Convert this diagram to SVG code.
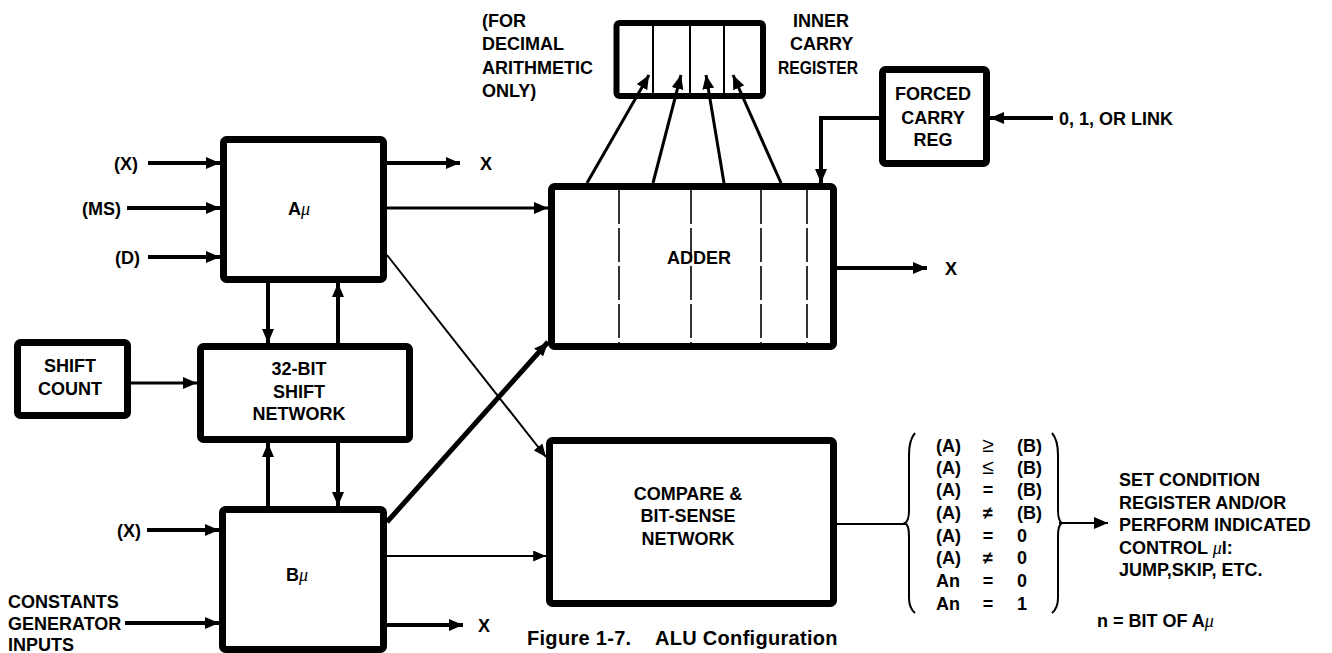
<svg xmlns="http://www.w3.org/2000/svg" width="1332" height="653" viewBox="0 0 1332 653">
<defs>
<marker id="ah" viewBox="0 0 14 12" refX="14" refY="6" markerWidth="14" markerHeight="12" markerUnits="userSpaceOnUse" orient="auto"><path d="M0,0 L14,6 L0,12 z" fill="#000"/></marker>
<marker id="ahs" viewBox="0 0 14 12" refX="14" refY="6" markerWidth="13" markerHeight="11" markerUnits="userSpaceOnUse" orient="auto"><path d="M0,0 L14,6 L0,12 z" fill="#000"/></marker>
</defs>
<style>
.box{fill:#fff;stroke:#000;stroke-width:7;stroke-linejoin:round}
.t{font-family:"Liberation Sans",Arial,sans-serif;font-weight:bold;font-size:18px;fill:#000}
.c{text-anchor:middle}
.e{text-anchor:end}
.mu{font-family:"Liberation Serif",serif;font-style:italic;font-weight:normal}
.op{font-size:21px;font-weight:normal}
.cap{font-size:20px;letter-spacing:0.3px}
.w{fill:none;stroke:#000}
.k{stroke-width:4}
.m{stroke-width:3}
.n{stroke-width:2}
.div{stroke:#000;stroke-width:1.6;stroke-dasharray:34 4}
</style>
<rect width="1332" height="653" fill="#fff"/>
<g id="a-mu">
<rect class="box" x="223.5" y="139.5" width="160" height="140" rx="3"/>
<text class="t c" x="299" y="214.5">A<tspan class="mu">μ</tspan></text>
<text class="t e" x="138" y="169.5">(X)</text>
<text class="t e" x="121" y="214.5">(MS)</text>
<text class="t e" x="140" y="263.5">(D)</text>
<text class="t" x="480" y="169.5">X</text>
</g>
<g id="adder">
<rect class="box" x="551.5" y="186.5" width="282" height="160" rx="3"/>
<line class="div" x1="619" y1="190" x2="619" y2="344"/>
<line class="div" x1="691" y1="190" x2="691" y2="344"/>
<line class="div" x1="761" y1="190" x2="761" y2="344"/>
<line class="div" x1="807" y1="190" x2="807" y2="344"/>
<text class="t c" x="699" y="263.5">ADDER</text>
<text class="t" x="945" y="274.5">X</text>
</g>
<g id="inner-carry-register">
<rect class="box" x="616.5" y="23" width="146.5" height="73" rx="3" style="stroke-width:6"/>
<line stroke="#000" stroke-width="2" x1="653" y1="25" x2="653" y2="94"/>
<line stroke="#000" stroke-width="2" x1="690" y1="25" x2="690" y2="94"/>
<line stroke="#000" stroke-width="2" x1="724" y1="25" x2="724" y2="94"/>
<text class="t" x="482" y="26.5">(FOR</text>
<text class="t" x="482" y="49.5">DECIMAL</text>
<text class="t" x="482" y="73.5">ARITHMETIC</text>
<text class="t" x="482" y="96.5">ONLY)</text>
<text class="t" x="793" y="26.5">INNER</text>
<text class="t" x="790" y="49.5">CARRY</text>
<text class="t" x="778" y="73.5" textLength="80" lengthAdjust="spacingAndGlyphs">REGISTER</text>
</g>
<g id="forced-carry-reg">
<rect class="box" x="882.5" y="69.5" width="104" height="94" rx="3"/>
<text class="t c" x="933" y="99.5">FORCED</text>
<text class="t c" x="933" y="123.5">CARRY</text>
<text class="t c" x="933" y="145.5">REG</text>
<text class="t" x="1059" y="124.5">0, 1, OR LINK</text>
</g>
<g id="shift-count">
<rect class="box" x="17.5" y="342.5" width="110" height="73" rx="3"/>
<text class="t c" x="70" y="371.5">SHIFT</text>
<text class="t c" x="70" y="394.5">COUNT</text>
</g>
<g id="shift-network">
<rect class="box" x="200.5" y="346.5" width="209" height="93" rx="3"/>
<text class="t c" x="299" y="374.5">32-BIT</text>
<text class="t c" x="299" y="397.5">SHIFT</text>
<text class="t c" x="299" y="419.5">NETWORK</text>
</g>
<g id="b-mu">
<rect class="box" x="222.5" y="509.5" width="161" height="140" rx="3"/>
<text class="t c" x="297" y="580.5">B<tspan class="mu">μ</tspan></text>
<text class="t e" x="141" y="536.5">(X)</text>
<text class="t" x="8" y="608">CONSTANTS</text>
<text class="t" x="8" y="630">GENERATOR</text>
<text class="t" x="8" y="651">INPUTS</text>
<text class="t" x="478" y="631.5">X</text>
</g>
<g id="compare">
<rect class="box" x="549.5" y="440.5" width="284" height="163" rx="3"/>
<text class="t c" x="688" y="499.5">COMPARE &amp;</text>
<text class="t c" x="688" y="521.5">BIT-SENSE</text>
<text class="t c" x="688" y="544.5">NETWORK</text>
</g>
<g id="conditions">
<path class="w n" d="M915,433 Q909,440 909,455 L909,510 Q909,521 905,523 Q909,525 909,536 L909,598 Q909,608 915,613"/>
<path class="w n" d="M1052,433 Q1058,440 1058,455 L1058,510 Q1058,521 1062,523 Q1058,525 1058,536 L1058,598 Q1058,608 1052,613"/>
<text class="t" x="936" y="451.5">(A)</text><text class="t c op" x="988" y="452">≥</text><text class="t" x="1017" y="451.5">(B)</text>
<text class="t" x="936" y="473.5">(A)</text><text class="t c op" x="988" y="474">≤</text><text class="t" x="1017" y="473.5">(B)</text>
<text class="t" x="936" y="495.5">(A)</text><text class="t c" x="988" y="495.5">=</text><text class="t" x="1017" y="495.5">(B)</text>
<text class="t" x="936" y="518.5">(A)</text><text class="t c" x="988" y="518.5">≠</text><text class="t" x="1017" y="518.5">(B)</text>
<text class="t" x="936" y="541.5">(A)</text><text class="t c" x="988" y="541.5">=</text><text class="t" x="1017" y="541.5">0</text>
<text class="t" x="936" y="563.5">(A)</text><text class="t c" x="988" y="563.5">≠</text><text class="t" x="1017" y="563.5">0</text>
<text class="t" x="936" y="586.5">An</text><text class="t c" x="988" y="586.5">=</text><text class="t" x="1017" y="586.5">0</text>
<text class="t" x="936" y="609.5">An</text><text class="t c" x="988" y="609.5">=</text><text class="t" x="1017" y="609.5">1</text>
<text class="t" x="1119" y="485.5">SET CONDITION</text>
<text class="t" x="1119" y="508.5">REGISTER AND/OR</text>
<text class="t" x="1119" y="530.5">PERFORM INDICATED</text>
<text class="t" x="1119" y="553.5">CONTROL <tspan class="mu">μ</tspan>I:</text>
<text class="t" x="1119" y="575.5">JUMP,SKIP, ETC.</text>
<text class="t" x="1097" y="626.5">n = BIT OF A<tspan class="mu">μ</tspan></text>
</g>
<g id="caption">
<text class="t cap" x="527" y="645">Figure 1-7.</text>
<text class="t cap" x="655" y="645">ALU Configuration</text>
</g>
<g id="connectors">
<path class="w k" d="M148,163 H220" marker-end="url(#ah)"/>
<path class="w k" d="M127,208 H220" marker-end="url(#ah)"/>
<path class="w k" d="M148,257 H220" marker-end="url(#ah)"/>
<path class="w k" d="M387,163 H460" marker-end="url(#ah)"/>
<path class="w m" d="M387,208 H548" marker-end="url(#ah)"/>
<path class="w n" d="M387,255 L546,457" marker-end="url(#ahs)"/>
<path class="w k" d="M268,283 V343" marker-end="url(#ah)"/>
<path class="w k" d="M338,343 V283" marker-end="url(#ah)"/>
<path class="w k" d="M268,506 V443" marker-end="url(#ah)"/>
<path class="w k" d="M338,443 V506" marker-end="url(#ah)"/>
<path class="w m" d="M131,383 H197" marker-end="url(#ah)"/>
<path class="w k" d="M147,530 H219" marker-end="url(#ah)"/>
<path class="w k" d="M125,623 H219" marker-end="url(#ah)"/>
<path class="w" stroke-width="5" d="M387,522 L548,342" marker-end="url(#ah)"/>
<path class="w n" d="M387,556 H546" marker-end="url(#ahs)"/>
<path class="w k" d="M387,625 H463" marker-end="url(#ah)"/>
<path class="w k" d="M837,268 H927" marker-end="url(#ah)"/>
<path class="w m" d="M587,183 L649,75" marker-end="url(#ah)"/>
<path class="w m" d="M653,183 L681,75" marker-end="url(#ah)"/>
<path class="w m" d="M724,183 L706,75" marker-end="url(#ah)"/>
<path class="w m" d="M781,183 L733,75" marker-end="url(#ah)"/>
<path class="w k" d="M879,118 H821 V183" marker-end="url(#ah)"/>
<path class="w k" d="M1053,118 H990" marker-end="url(#ah)"/>
<path class="w n" d="M837,524 H906"/>
<path class="w n" d="M1059,523 H1108" marker-end="url(#ah)"/>
</g>
</svg>
